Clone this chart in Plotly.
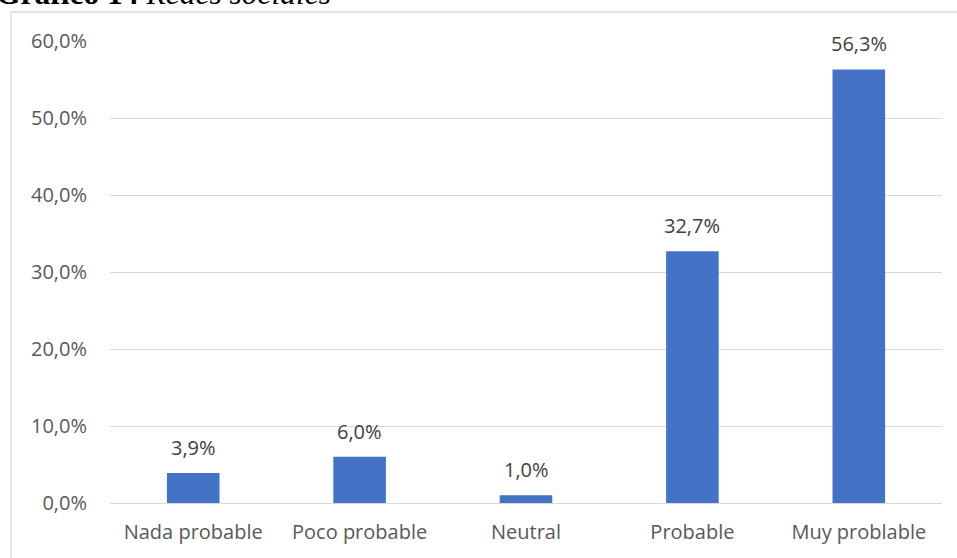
import plotly.graph_objects as go

categories = ["Nada probable", "Poco probable", "Neutral", "Probable", "Muy problable"]
values = [0.039, 0.060, 0.010, 0.327, 0.563]
y_ticks = [0.0, 0.1, 0.2, 0.3, 0.4, 0.5, 0.6]

W, H = 957, 558
L, R, T, B = 110, 15, 41, 55
pw, ph = W - L - R, H - T - B

FONT = "Open Sans"

fig = go.Figure(go.Bar(
    x=categories, y=values,
    marker=dict(color="#4472C4", line=dict(width=0)),
    width=0.316,
    hoverinfo="skip",
))

# value labels above each bar
for c, v in zip(categories, values):
    fig.add_annotation(
        x=c, y=v, xref="x", yref="y",
        text=f"{v*100:.1f}%".replace(".", ","),
        showarrow=False, yanchor="bottom", yshift=10,
        font=dict(family=FONT, size=20, color="#404040"),
    )

# chart frame (extends past the right and bottom edges)
fig.add_shape(
    type="rect", xref="paper", yref="paper",
    x0=(11 - L) / pw, x1=(W + 5 - L) / pw,
    y0=-(B + 5) / ph, y1=(H - B - 12) / ph,
    line=dict(color="#d9d9d9", width=1.3), fillcolor="rgba(0,0,0,0)", layer="below",
)

# figure caption, partly above the page
fig.add_annotation(
    xref="paper", yref="paper", x=(-6 - L) / pw, y=(H - B - 13) / ph,
    xanchor="left", yanchor="bottom", showarrow=False,
    text="<b>Gráfico 14</b> <i>Redes sociales</i>",
    font=dict(family="Liberation Serif", size=31.5, color="#000000"),
)

fig.update_layout(
    width=W, height=H,
    margin=dict(l=L, r=R, t=T, b=B, pad=0),
    paper_bgcolor="white", plot_bgcolor="white",
    separators=",.",
    showlegend=False,
    xaxis=dict(
        showgrid=False, showline=False, zeroline=False, ticks="",
        tickfont=dict(family=FONT, size=20, color="#595959"),
        ticklabelstandoff=15,
    ),
    yaxis=dict(
        range=[0, 0.6], tickvals=y_ticks, tickformat=".1%",
        showgrid=True, gridcolor="#d9d9d9", gridwidth=1.3,
        zeroline=True, zerolinecolor="#d9d9d9", zerolinewidth=1.3,
        showline=False, ticks="",
        tickfont=dict(family=FONT, size=20, color="#595959"),
        ticklabelstandoff=22,
    ),
)

fig.write_html("out.html")
